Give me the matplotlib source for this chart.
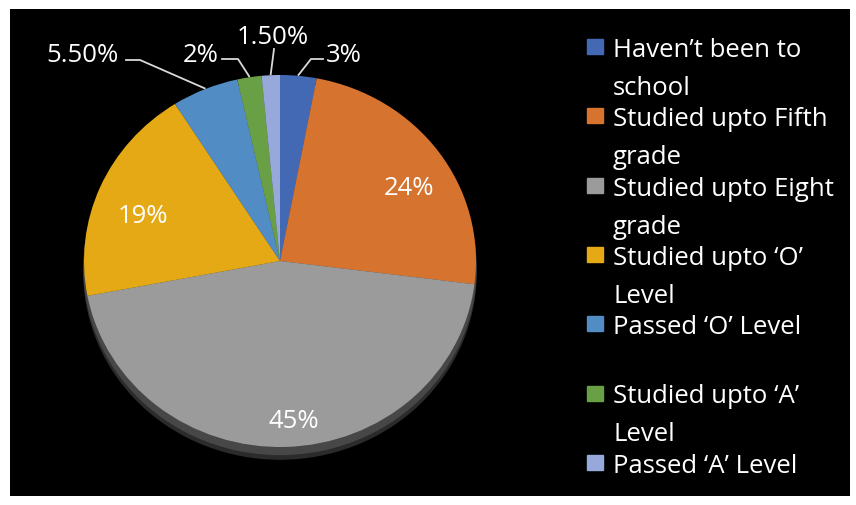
import numpy as np
import matplotlib
matplotlib.use("Agg")
import matplotlib.pyplot as plt
from matplotlib.patches import Ellipse, Rectangle

# ---- data ----
categories = ["Haven\u2019t been to\nschool",
              "Studied upto Fifth\ngrade",
              "Studied upto Eight\ngrade",
              "Studied upto \u2018O\u2019\nLevel",
              "Passed \u2018O\u2019 Level\n",
              "Studied upto \u2018A\u2019\nLevel",
              "Passed \u2018A\u2019 Level"]
shares = [3, 24, 45, 19, 5.5, 2, 1.5]
pct_labels = ["3%", "24%", "45%", "19%", "5.50%", "2%", "1.50%"]
colors = ["#4469B4", "#D5732F", "#9B9B9B", "#E4A914",
          "#528CC4", "#69A046", "#96A9DA"]

W, H = 856, 506
plt.rcParams["font.family"] = ["Open Sans", "DejaVu Sans"]
fig = plt.figure(figsize=(W / 100, H / 100), dpi=100, facecolor="white")

# black panel
bg = fig.add_axes([10 / W, 1 - 497 / H, 840 / W, 487 / H])
bg.set_facecolor("black")
bg.set_xticks([]); bg.set_yticks([])
for s in bg.spines.values():
    s.set_visible(False)

# pie axes spans the ellipse (slightly flattened, like the excel 3d pie)
px0, py0, pw, ph = 84, 76, 392, 372
ax = fig.add_axes([px0 / W, 1 - (py0 + ph) / H, pw / W, ph / H])
ax.set_xlim(-1, 1); ax.set_ylim(-1, 1)
ax.axis("off")

# side / shadow of the pie
ax.add_patch(Ellipse((0, -0.065), 2.0, 2.0, color="#2b2b2b", zorder=0, clip_on=False))
ax.add_patch(Ellipse((0, -0.04), 2.0, 2.0, color="#474747", zorder=0, clip_on=False))

wedges, _ = ax.pie(shares, colors=colors, startangle=90, counterclock=False,
                   radius=1, wedgeprops=dict(linewidth=0))
ax.set_xlim(-1, 1); ax.set_ylim(-1, 1)
ax.set_aspect("auto")

fs = 18.5
# inside labels (best-fit distances)
inside = {1: (0.77, -5), 2: (0.86, 3), 3: (0.74, 4)}
for i, (r, dang) in inside.items():
    w = wedges[i]
    a = np.deg2rad((w.theta1 + w.theta2) / 2 + dang)
    ax.text(r * np.cos(a), r * np.sin(a), pct_labels[i], color="white",
            fontsize=fs, ha="center", va="center")

# outside labels with leader lines: (text x, text y, elbow points) in pixels
def to_ax(x, y):
    return (x - (px0 + pw / 2)) / (pw / 2), ((py0 + ph / 2) - y) / (ph / 2)

outside = {
    4: dict(txt=(82, 55), pts=[(126, 61), (140, 61)]),
    5: dict(txt=(201, 55), pts=[(222, 60), (238, 60)]),
    6: dict(txt=(273, 37), pts=[(274, 50)]),
    0: dict(txt=(344, 55), pts=[(323, 60), (311, 60)]),
}
for i, o in outside.items():
    w = wedges[i]
    a = np.deg2rad((w.theta1 + w.theta2) / 2)
    edge = (np.cos(a) * 1.005, np.sin(a) * 1.005)
    xs = [to_ax(*p)[0] for p in o["pts"]] + [edge[0]]
    ys = [to_ax(*p)[1] for p in o["pts"]] + [edge[1]]
    ax.plot(xs, ys, color="#d9d9d9", lw=1.3, clip_on=False, zorder=5)
    tx, ty = to_ax(*o["txt"])
    ax.text(tx, ty, pct_labels[i], color="white", fontsize=fs,
            ha="center", va="center", clip_on=False)

# legend, laid out like the excel one (two-line slots)
for i, (lab, c) in enumerate(zip(categories, colors)):
    base = 57 + 69.3 * i
    fig.patches.append(Rectangle((587 / W, 1 - (base - 2) / H), 16 / W, 15 / H,
                                 transform=fig.transFigure, color=c))
    for j, line in enumerate(lab.split("\n")):
        if line:
            fig.text(613 / W, 1 - (base + 38 * j) / H, line, color="white",
                     fontsize=fs, va="baseline", ha="left")

fig.savefig("out.png", dpi=100, facecolor="white")
